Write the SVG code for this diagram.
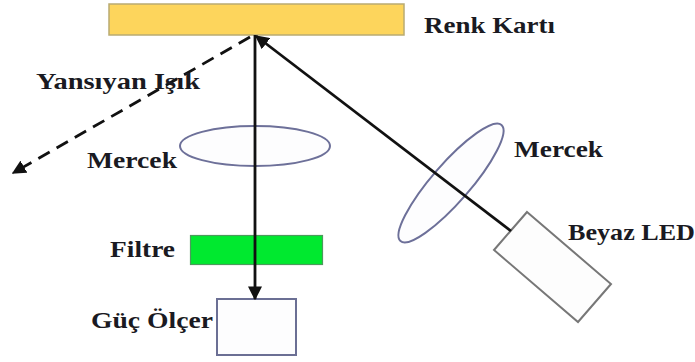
<svg xmlns="http://www.w3.org/2000/svg" width="695" height="362" viewBox="0 0 695 362">
<style>
text{font-family:"Liberation Serif","Times New Roman",serif;font-weight:bold;font-size:23px;fill:#1a1a22}
.conn{stroke:#111;stroke-width:2.8;fill:none}
.lens{fill:#fdfdfe;stroke:#6d7099;stroke-width:2}
</style>
<defs>
<marker id="arrow" viewBox="0 0 10 10" refX="9" refY="5" markerWidth="14" markerHeight="14" markerUnits="userSpaceOnUse" orient="auto"><path d="M0 0L10 5L0 10z" fill="#111"/></marker>
</defs>
<rect width="695" height="362" fill="#fff"/>
<g id="renk-karti"><rect x="109" y="4" width="295" height="31" fill="#fdd55c" stroke="#b9ab72" stroke-width="1.500"/><text x="424" y="33" textLength="131" lengthAdjust="spacingAndGlyphs">Renk Kartı</text></g>
<g id="mercek-1"><ellipse cx="255" cy="146" rx="75" ry="20" class="lens"/><text x="87" y="168" textLength="90" lengthAdjust="spacingAndGlyphs">Mercek</text></g>
<g id="mercek-2"><ellipse cx="451" cy="183" rx="19" ry="77" transform="rotate(41 451 183)" class="lens"/><text x="514" y="157" textLength="89" lengthAdjust="spacingAndGlyphs">Mercek</text></g>
<g id="filtre"><rect x="190.500" y="235.500" width="132" height="29" fill="#00e92f" stroke="#4c9a5c" stroke-width="1.200"/><text x="110" y="257" textLength="65" lengthAdjust="spacingAndGlyphs">Filtre</text></g>
<g id="guc-olcer"><rect x="217" y="299" width="79" height="56" fill="#fdfdfe" stroke="#6b6f94" stroke-width="2"/><text x="91" y="328" textLength="122" lengthAdjust="spacingAndGlyphs">Güç Ölçer</text></g>
<g id="beyaz-led"><path d="M527 212L611 284L578 322L494 250z" fill="#fdfdfd" stroke="#777" stroke-width="2"/><text x="568" y="240" textLength="127" lengthAdjust="spacingAndGlyphs">Beyaz LED</text></g>
<g id="connectors">
<path class="conn" d="M255 35L255 299" marker-end="url(#arrow)"/>
<path class="conn" d="M511 231L256 36" marker-end="url(#arrow)"/>
<path class="conn" d="M250 37L13 173" stroke-dasharray="13 8" marker-end="url(#arrow)"/>
</g>
<text id="yansiyan-isik" x="36" y="89" textLength="164" lengthAdjust="spacingAndGlyphs">Yansıyan Işık</text>
</svg>
